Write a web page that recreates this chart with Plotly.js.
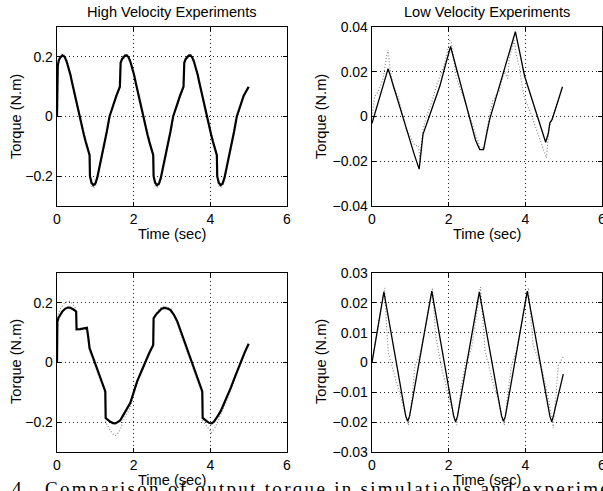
<!DOCTYPE html>
<html><head><meta charset="utf-8">
<script src="https://cdn.plot.ly/plotly-3.0.1.min.js"></script>
<style>
html,body{margin:0;padding:0;background:#fff;overflow:hidden}
#chart{width:603px;height:491px}
text.annotation-text[data-unformatted^="4."]{letter-spacing:2.3px}
</style></head><body><div id="chart"></div>
<script>
// ---- tick labels ----
const xTicks = [0, 2, 4, 6];
const hvTicks = [-0.2, 0, 0.2];
const hvTickText = ["\u22120.2", "0", "0.2"];
const lv1Ticks = [-0.04, -0.02, 0, 0.02, 0.04];
const lv1TickText = ["\u22120.04", "\u22120.02", "0", "0.02", "0.04"];
const lv2Ticks = [-0.03, -0.02, -0.01, 0, 0.01, 0.02, 0.03];
const lv2TickText = ["\u22120.03", "\u22120.02", "\u22120.01", "0", "0.01", "0.02", "0.03"];

// ---- High velocity, experiment 1 (top left) ----
const hv1Time = [0,0.02,0.05,0.1,0.15,0.2,0.25,0.3,0.35,0.4,0.45,0.5,0.55,0.6,0.65,0.7,0.75,0.8,0.85,0.86,0.9,0.95,1.0,1.05,1.1,1.15,1.2,1.25,1.3,1.37,1.45,1.55,1.64,
  1.66,1.7,1.76,1.81,1.86,1.91,1.96,2.01,2.06,2.11,2.16,2.21,2.26,2.31,2.36,2.41,2.46,2.51,2.52,2.56,2.61,2.66,2.71,2.76,2.81,2.86,2.91,2.96,3.03,3.11,3.21,3.30,
  3.32,3.36,3.42,3.47,3.52,3.57,3.62,3.67,3.72,3.77,3.82,3.87,3.92,3.97,4.02,4.07,4.12,4.17,4.18,4.22,4.27,4.32,4.37,4.42,4.47,4.52,4.57,4.62,4.69,4.77,4.87,5.0];
const hv1Sim = [0,0.17,0.19,0.2,0.205,0.2,0.185,0.165,0.14,0.11,0.08,0.05,0.02,-0.01,-0.035,-0.06,-0.085,-0.11,-0.13,-0.2,-0.222,-0.23,-0.225,-0.205,-0.175,-0.143,-0.11,-0.08,-0.05,0,0.035,0.07,0.1,
  0.18,0.193,0.202,0.205,0.2,0.185,0.165,0.14,0.11,0.08,0.05,0.02,-0.01,-0.035,-0.06,-0.085,-0.11,-0.13,-0.2,-0.222,-0.23,-0.225,-0.205,-0.175,-0.143,-0.11,-0.08,-0.05,0,0.035,0.07,0.1,
  0.18,0.193,0.202,0.205,0.2,0.185,0.165,0.14,0.11,0.08,0.05,0.02,-0.01,-0.035,-0.06,-0.085,-0.11,-0.13,-0.2,-0.222,-0.23,-0.225,-0.205,-0.175,-0.143,-0.11,-0.08,-0.05,0,0.035,0.07,0.1];
const hv1Exp = [0,0.175,0.195,0.207,0.21,0.204,0.19,0.17,0.145,0.115,0.085,0.055,0.024,-0.006,-0.031,-0.056,-0.081,-0.106,-0.126,-0.205,-0.232,-0.24,-0.234,-0.212,-0.18,-0.148,-0.115,-0.085,-0.055,-0.005,0.03,0.065,0.096,
  0.185,0.198,0.207,0.21,0.204,0.19,0.17,0.145,0.115,0.085,0.055,0.024,-0.006,-0.031,-0.056,-0.081,-0.106,-0.126,-0.205,-0.232,-0.238,-0.232,-0.21,-0.18,-0.148,-0.115,-0.085,-0.055,-0.005,0.03,0.065,0.096,
  0.185,0.198,0.207,0.21,0.204,0.19,0.17,0.145,0.115,0.085,0.055,0.024,-0.006,-0.031,-0.056,-0.081,-0.106,-0.126,-0.205,-0.232,-0.238,-0.232,-0.21,-0.18,-0.148,-0.115,-0.085,-0.055,-0.005,0.03,0.065,0.096];

// ---- Low velocity, experiment 1 (top right) ----
const lv1SimTime = [0,0.1,0.2,0.3,0.42,0.5,0.6,0.7,0.81,0.9,1.0,1.1,1.23,1.28,1.33,1.45,1.6,1.77,1.9,2.05,2.15,2.3,2.45,2.55,2.7,2.81,2.91,3.0,3.07,3.2,3.35,3.5,3.65,3.74,3.85,3.98,4.1,4.25,4.4,4.53,4.6,4.64,4.70,4.8,4.9,4.97];
const lv1Sim = [-0.003,0.0028,0.0086,0.0145,0.0214,0.017,0.0113,0.0053,-0.0013,-0.0062,-0.0115,-0.0168,-0.0235,-0.015,-0.008,-0.0021,0.0053,0.0136,0.022,0.0313,0.0248,0.015,0.0052,-0.0013,-0.0105,-0.0148,-0.0148,-0.007,-0.0013,0.0063,0.015,0.0239,0.0327,0.0379,0.029,0.0181,0.0116,0.0035,-0.0045,-0.0115,-0.0075,-0.0028,-0.0013,0.004,0.0095,0.0133];
const lv1ExpTime = [0,0.07,0.16,0.29,0.38,0.42,0.46,0.55,0.68,0.77,0.9,1.03,1.12,1.21,1.25,1.33,1.42,1.55,1.68,1.9,2.03,2.07,2.2,2.38,2.55,2.73,2.81,2.92,3.02,3.15,3.32,3.45,3.54,3.58,3.71,3.75,3.84,3.97,4.06,4.19,4.32,4.45,4.55,4.62,4.75,4.88,4.95];
const lv1Exp = [0,0.009,0.011,0.017,0.027,0.0298,0.023,0.013,0.009,0.003,-0.006,-0.01,-0.013,-0.013,-0.019,-0.006,0.0,0.006,0.0136,0.024,0.034,0.033,0.017,0.009,0.0,-0.009,-0.0135,-0.0145,-0.0035,0.007,0.0115,0.02,0.017,0.026,0.034,0.029,0.022,0.0085,0.005,-0.001,-0.007,-0.013,-0.0185,-0.005,0.002,0.009,0.0125];

// ---- High velocity, experiment 2 (bottom left) ----
const hv2Time = [0,0.01,0.04,0.08,0.14,0.21,0.28,0.34,0.40,0.45,0.50,0.51,0.60,0.70,0.78,0.81,0.85,0.95,1.05,1.15,1.26,1.27,1.33,1.39,1.46,1.52,1.58,1.65,1.72,1.78,1.85,1.91,2.0,2.09,2.2,2.29,2.4,2.51,2.52,2.59,2.66,2.73,2.80,2.88,2.96,3.05,3.14,3.25,3.35,3.46,3.57,3.68,3.79,3.80,3.86,3.92,3.98,4.03,4.09,4.14,4.2,4.27,4.4,4.53,4.66,4.79,4.9,5.0];
const hv2Sim = [0,0.137,0.15,0.159,0.171,0.18,0.184,0.184,0.181,0.176,0.17,0.111,0.112,0.114,0.116,0.09,0.048,0.013,-0.022,-0.058,-0.097,-0.186,-0.194,-0.199,-0.203,-0.204,-0.2,-0.194,-0.178,-0.163,-0.15,-0.136,-0.1,-0.063,-0.03,0,0.03,0.059,0.148,0.162,0.172,0.18,0.183,0.181,0.176,0.16,0.137,0.097,0.059,0.02,-0.019,-0.058,-0.097,-0.186,-0.193,-0.198,-0.203,-0.204,-0.199,-0.191,-0.178,-0.163,-0.125,-0.086,-0.042,0.003,0.035,0.063];
const hv2Exp = [0,0.15,0.165,0.178,0.19,0.2,0.205,0.205,0.198,0.19,0.175,0.115,0.11,0.112,0.11,0.085,0.04,0.005,-0.03,-0.065,-0.105,-0.2,-0.215,-0.228,-0.24,-0.245,-0.238,-0.225,-0.2,-0.18,-0.165,-0.15,-0.11,-0.07,-0.035,-0.005,0.025,0.055,0.15,0.165,0.178,0.186,0.19,0.187,0.18,0.162,0.13,0.09,0.05,0.01,-0.03,-0.068,-0.105,-0.195,-0.205,-0.215,-0.228,-0.235,-0.225,-0.215,-0.195,-0.175,-0.135,-0.092,-0.048,-0.002,0.03,0.06];

// ---- Low velocity, experiment 2 (bottom right) ----
const lv2SimTime = [0,0.31,0.88,0.93,0.98,1.56,2.13,2.18,2.23,2.80,3.38,3.43,3.48,4.05,4.64,4.69,4.74,4.99];
const lv2Sim = [0,0.0237,-0.018,-0.0197,-0.018,0.0239,-0.018,-0.0199,-0.018,0.0237,-0.018,-0.0197,-0.018,0.0239,-0.018,-0.0199,-0.0175,-0.0039];
const lv2ExpTime = [0,0.1,0.2,0.33,0.38,0.43,0.55,0.7,0.85,0.95,1.05,1.12,1.25,1.4,1.58,1.66,1.82,1.99,2.21,2.33,2.43,2.6,2.83,2.95,3.12,3.3,3.45,3.55,3.64,3.77,4.08,4.2,4.43,4.6,4.73,4.86,4.99];
const lv2Exp = [0,0.008,0.016,0.025,0.012,0.003,-0.0025,-0.009,-0.016,-0.021,-0.012,-0.001,0.0026,0.012,0.025,0.009,-0.002,-0.011,-0.021,-0.008,-0.001,0.005,0.0253,0.004,-0.005,-0.013,-0.021,-0.01,-0.001,0.004,0.025,0.006,-0.002,-0.012,-0.022,-0.001,0.002];

const W = 603, H = 491;
const px = v => v / W;
const py = v => 1 - v / H;
const FONT = "Liberation Sans, Arial, Helvetica, sans-serif";

const expLine = {color: '#8c8c8c', width: 1.2, dash: '1px,2px'};
const simThick = {color: '#000', width: 2.2};
const simThin = {color: '#000', width: 1.3};

const traces = [
  {x: hv1Time, y: hv1Exp, xaxis: 'x', yaxis: 'y', mode: 'lines', line: expLine},
  {x: hv1Time, y: hv1Sim, xaxis: 'x', yaxis: 'y', mode: 'lines', line: simThick},
  {x: lv1ExpTime, y: lv1Exp, xaxis: 'x2', yaxis: 'y2', mode: 'lines', line: expLine},
  {x: lv1SimTime, y: lv1Sim, xaxis: 'x2', yaxis: 'y2', mode: 'lines', line: simThin},
  {x: hv2Time, y: hv2Exp, xaxis: 'x3', yaxis: 'y3', mode: 'lines', line: expLine},
  {x: hv2Time, y: hv2Sim, xaxis: 'x3', yaxis: 'y3', mode: 'lines', line: simThick},
  {x: lv2ExpTime, y: lv2Exp, xaxis: 'x4', yaxis: 'y4', mode: 'lines', line: expLine},
  {x: lv2SimTime, y: lv2Sim, xaxis: 'x4', yaxis: 'y4', mode: 'lines', line: simThin}
];

function ax(extra) {
  return Object.assign({
    showline: true, linecolor: '#000', linewidth: 1.3, mirror: 'ticks',
    ticks: 'inside', ticklen: 4, tickcolor: '#000', tickwidth: 1,
    showgrid: true, gridcolor: '#222', griddash: '1px,3px', gridwidth: 1,
    zeroline: false, fixedrange: true, ticklabeloverflow: 'allow',
    tickfont: {family: FONT, size: 14, color: '#000'}
  }, extra);
}
const xL = [px(57), px(287)], xR = [px(372), px(602)];
const yT = [py(206), py(27)], yB = [py(452), py(273)];
const xa = d => ax({domain: d, range: [0, 6], tickmode: 'array', tickvals: xTicks});

const ann = (text, x, y, opts) => Object.assign({
  text: text, x: px(x), y: py(y), xref: 'paper', yref: 'paper',
  showarrow: false, xanchor: 'center', yanchor: 'middle',
  font: {family: FONT, size: 14.6, color: '#000'}
}, opts || {});

const layout = {
  width: W, height: H,
  margin: {l: 0, r: 0, t: 0, b: 0},
  paper_bgcolor: '#fff', plot_bgcolor: '#fff',
  showlegend: false,
  xaxis: Object.assign(xa(xL), {anchor: 'y'}),
  yaxis: ax({domain: yT, anchor: 'x', range: [-0.3, 0.3], tickmode: 'array', tickvals: hvTicks, ticktext: hvTickText}),
  xaxis2: Object.assign(xa(xR), {anchor: 'y2'}),
  yaxis2: ax({domain: yT, anchor: 'x2', range: [-0.04, 0.04], tickmode: 'array', tickvals: lv1Ticks, ticktext: lv1TickText}),
  xaxis3: Object.assign(xa(xL), {anchor: 'y3'}),
  yaxis3: ax({domain: yB, anchor: 'x3', range: [-0.3, 0.3], tickmode: 'array', tickvals: hvTicks, ticktext: hvTickText}),
  xaxis4: Object.assign(xa(xR), {anchor: 'y4'}),
  yaxis4: ax({domain: yB, anchor: 'x4', range: [-0.03, 0.03], tickmode: 'array', tickvals: lv2Ticks, ticktext: lv2TickText}),
  annotations: [
    ann('4.  Comparison of output torque in simulations and experiments', 10, 488.5,
        {xanchor: 'left', font: {family: 'Liberation Serif, Times New Roman, serif', size: 19, color: '#000'}}),
    ann('High Velocity Experiments', 172, 12),
    ann('Low Velocity Experiments', 487, 12),
    ann('Time (sec)', 172, 234),
    ann('Time (sec)', 487, 234),
    ann('Time (sec)', 172, 480),
    ann('Time (sec)', 487, 480),
    ann('Torque (N.m)', 16, 117, {textangle: -90}),
    ann('Torque (N.m)', 321, 117, {textangle: -90}),
    ann('Torque (N.m)', 16, 362, {textangle: -90}),
    ann('Torque (N.m)', 321, 362, {textangle: -90})
  ]
};

Plotly.newPlot('chart', traces, layout, {staticPlot: true, displayModeBar: false});
</script></body></html>
